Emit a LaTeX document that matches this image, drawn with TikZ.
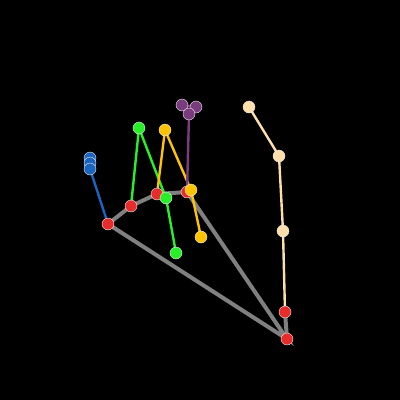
\documentclass[tikz,border=0pt]{standalone}
\begin{document}
\begin{tikzpicture}[x=1pt,y=-1pt,
  jt/.style={circle,draw=white!85!gray,line width=0.4pt,minimum size=12pt,inner sep=0pt},
  palm/.style={draw=gray!95!white,line width=4pt},
  bone/.style={line width=2.4pt}]
\definecolor{cred}{RGB}{232,44,44}
\definecolor{cblue}{RGB}{24,100,190}
\definecolor{cgreen}{RGB}{40,240,40}
\definecolor{cyellow}{RGB}{255,196,0}
\definecolor{cpurple}{RGB}{122,60,126}
\definecolor{ccream}{RGB}{255,222,170}
\definecolor{cgray}{RGB}{128,128,128}
\fill[black] (0,0) rectangle (400,400);
\useasboundingbox (0,0) rectangle (400,400);
% coordinates
\coordinate (w) at (287,339);
\coordinate (p1) at (285,312);
\coordinate (r1) at (108,224);
\coordinate (r2) at (131,206);
\coordinate (r3) at (157,194);
\coordinate (r4) at (187,192);
\coordinate (b1) at (90,169);
\coordinate (b2) at (90,163);
\coordinate (b3) at (90,158);
\coordinate (g1) at (139,128);
\coordinate (g2) at (166,198);
\coordinate (g3) at (176,253);
\coordinate (y1) at (165,130);
\coordinate (y2) at (191,190);
\coordinate (y3) at (201,237);
\coordinate (u1) at (189,114);
\coordinate (u2) at (182,105);
\coordinate (u3) at (196,107);
\coordinate (c1) at (283,231);
\coordinate (c2) at (279,156);
\coordinate (c3) at (249,107);
% palm
\draw[palm,draw=cgray] (r1) -- (r2) -- (r3) -- (r4) -- (w) -- (r1);
\draw[palm,draw=cgray] (p1) -- (w);
% fingers
\draw[bone,cblue] (r1) -- (b1) -- (b2) -- (b3);
\draw[bone,cgreen] (r2) -- (g1) -- (g2) -- (g3);
\draw[bone,cyellow] (r3) -- (y1) -- (y2) -- (y3);
\draw[bone,cpurple] (r4) -- (u1) -- (u2) -- (u3);
\draw[bone,ccream] (p1) -- (c1) -- (c2) -- (c3);
% joints
\node[jt,fill=cred] (nw) at (w) {};
\node[jt,fill=cred] (np1) at (p1) {};
\node[jt,fill=cred] (nr1) at (r1) {};
\node[jt,fill=cred] (nr2) at (r2) {};
\node[jt,fill=cred] (nr3) at (r3) {};
\node[jt,fill=cred] (nr4) at (r4) {};
\node[jt,fill=cblue] (nb3) at (b3) {};
\node[jt,fill=cblue] (nb2) at (b2) {};
\node[jt,fill=cblue] (nb1) at (b1) {};
\node[jt,fill=cgreen] (ng1) at (g1) {};
\node[jt,fill=cgreen] (ng2) at (g2) {};
\node[jt,fill=cgreen] (ng3) at (g3) {};
\node[jt,fill=cyellow] (ny1) at (y1) {};
\node[jt,fill=cyellow] (ny2) at (y2) {};
\node[jt,fill=cyellow] (ny3) at (y3) {};
\node[jt,fill=cpurple] (nu2) at (u2) {};
\node[jt,fill=cpurple] (nu3) at (u3) {};
\node[jt,fill=cpurple] (nu1) at (u1) {};
\node[jt,fill=ccream] (nc1) at (c1) {};
\node[jt,fill=ccream] (nc2) at (c2) {};
\node[jt,fill=ccream] (nc3) at (c3) {};
\end{tikzpicture}
\end{document}
